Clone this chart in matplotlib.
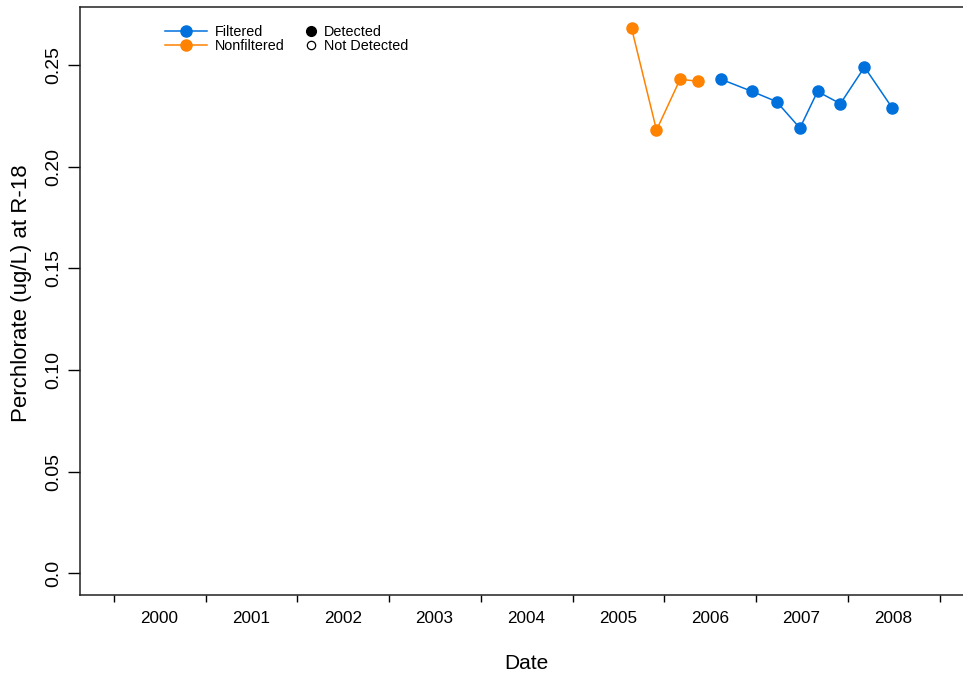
import matplotlib
matplotlib.use("Agg")
import matplotlib.pyplot as plt
import matplotlib.dates as mdates
from matplotlib.lines import Line2D
import pandas as pd

plt.rcParams['font.family'] = ['Liberation Sans', 'DejaVu Sans']

# sample dates and perchlorate values
nonfilteredDates = ['2005-08-24', '2005-12-01', '2006-03-05', '2006-05-17']
nonfilteredValues = [0.268, 0.218, 0.243, 0.242]
filteredDates = ['2006-08-15', '2006-12-17', '2007-03-24', '2007-06-25', '2007-09-03',
                 '2007-12-03', '2008-03-08', '2008-06-26']
filteredValues = [0.243, 0.237, 0.232, 0.219, 0.237, 0.231, 0.249, 0.229]
yTicks = [0.0, 0.05, 0.10, 0.15, 0.20, 0.25]
yTickLabels = ['0.0', '0.05', '0.10', '0.15', '0.20', '0.25']

blue = '#0071dc'
orange = '#ff8200'

fig = plt.figure(figsize=(9.63, 6.77), dpi=100)
ax = fig.add_axes([80 / 963, 82 / 677, 892 / 963, 588.5 / 677])

ax.plot(pd.to_datetime(nonfilteredDates), nonfilteredValues, color=orange, lw=1.1,
        marker='o', ms=8, mec=orange, mfc=orange)
ax.plot(pd.to_datetime(filteredDates), filteredValues, color=blue, lw=1.1,
        marker='o', ms=8, mec=blue, mfc=blue)

ax.set_xlim(pd.Timestamp('1999-08-20'), pd.Timestamp('2009-05-10'))
ax.set_ylim(-0.01067, 0.2788)

# year boundaries as ticks, year names in the middle of each year
ax.xaxis.set_major_locator(mdates.YearLocator())
ax.xaxis.set_major_formatter(plt.NullFormatter())
ax.xaxis.set_minor_locator(mdates.MonthLocator(bymonth=7))
ax.xaxis.set_minor_formatter(mdates.DateFormatter('%Y'))
ax.tick_params(axis='x', which='major', length=5, width=1, direction='out')
ax.tick_params(axis='x', which='minor', length=0, pad=11.5, labelsize=12.3)

ax.set_yticks(yTicks)
ax.set_yticklabels(yTickLabels, rotation=90, va='center')
ax.tick_params(axis='y', length=8.6, width=1, pad=4, labelsize=14)

for side in ['left', 'bottom', 'top', 'right']:
    ax.spines[side].set_linewidth(1.1)
    ax.spines[side].set_color('#222222')

ax.set_xlabel('Date', fontsize=15, va='center')
ax.xaxis.set_label_coords(0.5, -0.1165)
ax.set_ylabel('Perchlorate (ug/L) at R-18', fontsize=16, va='center')
ax.yaxis.set_label_coords(-59 / 892, 0.5136)

lineHandles = [Line2D([], [], color=blue, lw=1.1, marker='o', ms=8, mec=blue),
               Line2D([], [], color=orange, lw=1.1, marker='o', ms=8, mec=orange)]
leg1 = ax.legend(lineHandles, ['Filtered', 'Nonfiltered'], loc='upper left',
                 bbox_to_anchor=(165 / 963, 1 - 25 / 677), bbox_transform=fig.transFigure,
                 frameon=False, fontsize=10.4, handlelength=2.9, handletextpad=0.55,
                 labelspacing=0.0, borderpad=0, borderaxespad=0)
ax.add_artist(leg1)

pointHandles = [Line2D([], [], ls='none', marker='o', ms=7, mfc='black', mec='black'),
                Line2D([], [], ls='none', marker='o', ms=6, mfc='white', mec='black', mew=0.9)]
ax.legend(pointHandles, ['Detected', 'Not Detected'], loc='upper left',
          bbox_to_anchor=(304 / 963, 1 - 25 / 677), bbox_transform=fig.transFigure,
          frameon=False, fontsize=10.4, handlelength=1.0, handletextpad=0.4,
          labelspacing=0.0, borderpad=0, borderaxespad=0)

fig.savefig('out.png', dpi=100)
